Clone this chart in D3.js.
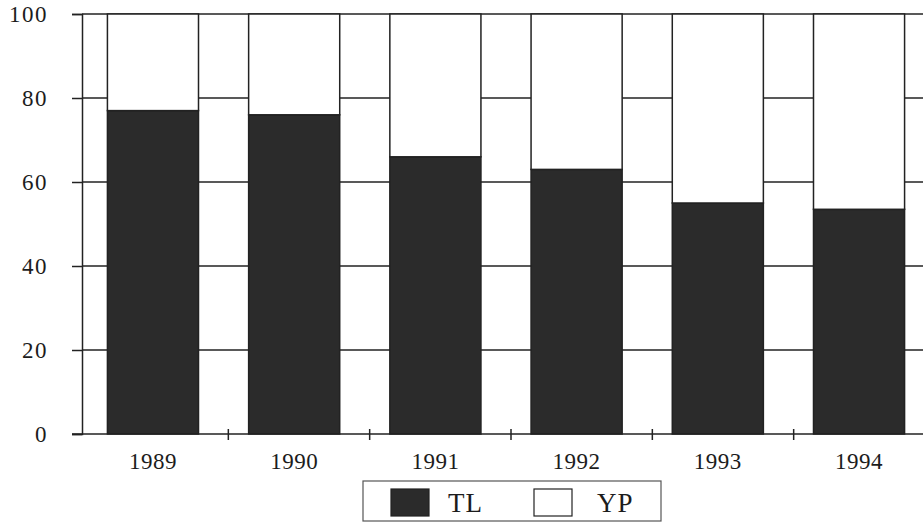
<!DOCTYPE html>
<html><head><meta charset="utf-8">
<script src="https://cdn.jsdelivr.net/npm/d3@7"></script>
<style>
html,body{margin:0;padding:0;background:#fff;}
svg text{font-family:"Liberation Serif","Times New Roman",serif;fill:#1c1c1c;}
</style></head>
<body>
<svg id="chart" width="923" height="523"></svg>
<script>
const years = ["1989","1990","1991","1992","1993","1994"];
const tlValues = [77, 76, 66, 63, 55, 53.5];
const ypValues = [23, 24, 34, 37, 45, 46.5];
const yTicks = [0, 20, 40, 60, 80, 100];
const seriesNames = ["TL", "YP"];
const seriesColors = ["#2b2b2b", "#ffffff"];

const svg = d3.select("#chart");
const ink = "#222";
const x = d3.scaleBand().domain(years).range([85, 933]).paddingInner(0.355).paddingOuter(0.18);
const xb = d3.scaleBand().domain(years).range([85, 933]);
const y = d3.scaleLinear().domain([0, 100]).range([434, 14]);

// horizontal gridlines
svg.append("g").selectAll("line").data(yTicks.filter(d => d > 0)).join("line")
  .attr("x1", 82).attr("x2", 923)
  .attr("y1", d => y(d)).attr("y2", d => y(d))
  .attr("stroke", ink).attr("stroke-width", 1.5);

// stacked bars
const rows = years.map((yr, i) => ({year: yr, TL: tlValues[i], YP: ypValues[i]}));
const stack = d3.stack().keys(seriesNames)(rows);
svg.append("g").selectAll("g").data(stack).join("g")
  .attr("fill", (d, i) => seriesColors[i])
  .selectAll("rect").data(d => d).join("rect")
  .attr("x", d => x(d.data.year) - 3)
  .attr("width", x.bandwidth())
  .attr("y", d => y(d[1]))
  .attr("height", d => y(d[0]) - y(d[1]))
  .attr("stroke", ink).attr("stroke-width", 1.5);

// y axis
const yAxis = svg.append("g").attr("transform", "translate(82,0)")
  .call(d3.axisLeft(y).tickValues(yTicks).tickSize(10).tickPadding(24));
yAxis.select(".domain").attr("stroke", ink).attr("stroke-width", 1.5);
yAxis.selectAll(".tick line").attr("stroke", ink).attr("stroke-width", 1.5);
yAxis.selectAll("text").attr("font-size", 23).attr("letter-spacing", 1.5)
  .style("font-family", '"Liberation Serif",serif').attr("fill", "#1c1c1c");

// x axis line with ticks at category boundaries
const xAxis = svg.append("g").attr("transform", "translate(0,434)");
xAxis.append("line").attr("x1", 72).attr("x2", 923).attr("y1", 0).attr("y2", 0)
  .attr("stroke", ink).attr("stroke-width", 1.5);
xAxis.selectAll("line.tk").data(years.slice(1)).join("line").attr("class", "tk")
  .attr("x1", d => xb(d) + 2).attr("x2", d => xb(d) + 2)
  .attr("y1", -5).attr("y2", 6).attr("stroke", ink).attr("stroke-width", 1.5);
xAxis.selectAll("text").data(years).join("text")
  .attr("x", d => x(d) - 3 + x.bandwidth() / 2).attr("y", 35)
  .attr("text-anchor", "middle").attr("font-size", 23).attr("letter-spacing", 0.5).text(d => d);

// legend
const lg = svg.append("g");
lg.append("rect").attr("x", 363).attr("y", 481).attr("width", 298).attr("height", 40)
  .attr("fill", "#fff").attr("stroke", "#555").attr("stroke-width", 1.2);
const items = [{name: "TL", sx: 391, tx: 448}, {name: "YP", sx: 534, tx: 597}];
items.forEach((it, i) => {
  lg.append("rect").attr("x", it.sx).attr("y", 489).attr("width", 38).attr("height", 27)
    .attr("fill", seriesColors[i]).attr("stroke", ink).attr("stroke-width", 1.2);
  lg.append("text").attr("x", it.tx).attr("y", 512).attr("font-size", 27).attr("letter-spacing", 1).text(it.name);
});
</script>
</body></html>
